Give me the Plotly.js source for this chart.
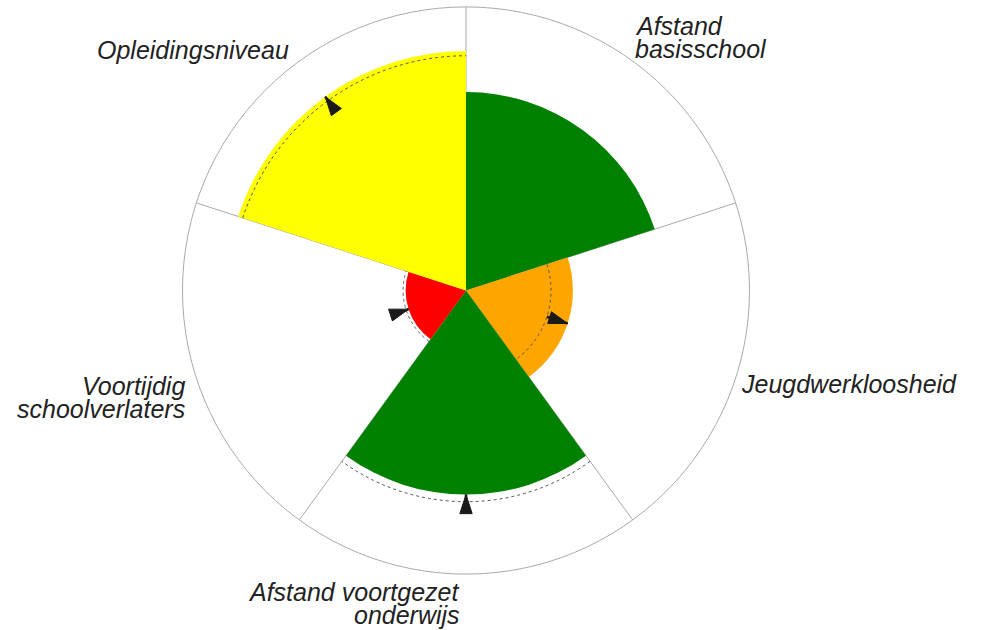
<!DOCTYPE html>
<html>
<head>
<meta charset="utf-8">
<script src="https://cdn.plot.ly/plotly-3.0.1.min.js"></script>
<style>html,body{margin:0;padding:0;background:#fff;}#chart{width:984px;height:630px;}</style>
</head>
<body>
<div id="chart"></div>
<script>
// ---- data ----
var categories = ['Afstand basisschool', 'Jeugdwerkloosheid', 'Afstand voortgezet onderwijs', 'Voortijdig schoolverlaters', 'Opleidingsniveau'];
var labels = ['Afstand<br>basisschool', 'Jeugdwerkloosheid', 'Afstand voortgezet<br>onderwijs', 'Voortijdig<br>schoolverlaters', 'Opleidingsniveau'];
var currentValues = [70, 37.7, 72, 21.3, 84.5];
var previousValues = [null, 30, 74.5, 22.2, 82.8];
var barColors = ['#008000', '#FFA500', '#008000', '#FF0000', '#FFFF00'];

// ---- layout helpers ----
var n = categories.length;
var sector = 360 / n;
var centers = categories.map(function (_, i) { return i * sector + sector / 2; });
var boundaries = categories.map(function (_, i) { return i * sector; });

var traces = [];
traces.push({
  type: 'barpolar',
  r: currentValues,
  theta: centers,
  width: categories.map(function () { return sector; }),
  marker: { color: barColors, line: { width: 0 } },
  text: categories,
  hoverinfo: 'text+r',
  showlegend: false
});

// dotted arcs for previous values and arrows from previous to current
categories.forEach(function (cat, i) {
  var prev = previousValues[i];
  if (prev === null) return;
  var th = [], rr = [];
  for (var a = centers[i] - sector / 2; a <= centers[i] + sector / 2 + 1e-9; a += 1) { th.push(a); rr.push(prev); }
  traces.push({
    type: 'scatterpolar', mode: 'lines', r: rr, theta: th,
    line: { color: '#555', width: 1, dash: 'dot' }, hoverinfo: 'skip', showlegend: false
  });
  var cur = currentValues[i];
  var outward = cur >= prev;
  traces.push({
    type: 'scatterpolar', mode: 'lines+markers',
    r: [prev, cur], theta: [centers[i], centers[i]],
    line: { color: '#222', width: 2.5 },
    marker: { symbol: 'arrow', size: [0, 20], color: '#1a1a1a', opacity: 1, line: { color: '#1a1a1a', width: 1 },
      angle: outward ? centers[i] : centers[i] + 180 },
    hoverinfo: 'skip', showlegend: false
  });
});

var W = 984, H = 630;
// label anchor: x, first-line centre y, anchor side
var labelPos = [[633, 26, 'left'], [739, 384, 'left'], [462, 592, 'right'], [187, 386, 'right'], [291, 50, 'right']];
var lineGap = 23;
var annotations = [];
labels.forEach(function (lab, i) {
  var p = labelPos[i];
  lab.split('<br>').forEach(function (line, j) {
    annotations.push({
      text: '<i>' + line + '</i>', x: p[0] / W, y: 1 - (p[1] + j * lineGap) / H,
      xref: 'paper', yref: 'paper', xanchor: p[2], yanchor: 'middle', align: p[2],
      showarrow: false, font: { family: 'Liberation Sans, Arial, sans-serif', size: 25, color: '#222' }
    });
  });
});

var layout = {
  width: W, height: H,
  margin: { l: 0, r: 0, t: 0, b: 0 },
  paper_bgcolor: '#fff',
  showlegend: false,
  polar: {
    domain: { x: [182.5 / W, 749.5 / W], y: [1 - 574 / H, 1 - 7 / H] },
    bgcolor: '#fff',
    barmode: 'overlay',
    radialaxis: { range: [0, 100], visible: true, showline: false, showgrid: false, showticklabels: false, ticks: '' },
    angularaxis: {
      type: 'linear', rotation: 90, direction: 'clockwise',
      tickvals: boundaries, showticklabels: false, ticks: '',
      showgrid: true, gridcolor: '#aaaaaa', gridwidth: 1,
      showline: true, linecolor: '#aaaaaa', linewidth: 1
    }
  },
  annotations: annotations
};

Plotly.newPlot('chart', traces, layout, { displayModeBar: false, staticPlot: true });
</script>
</body>
</html>
